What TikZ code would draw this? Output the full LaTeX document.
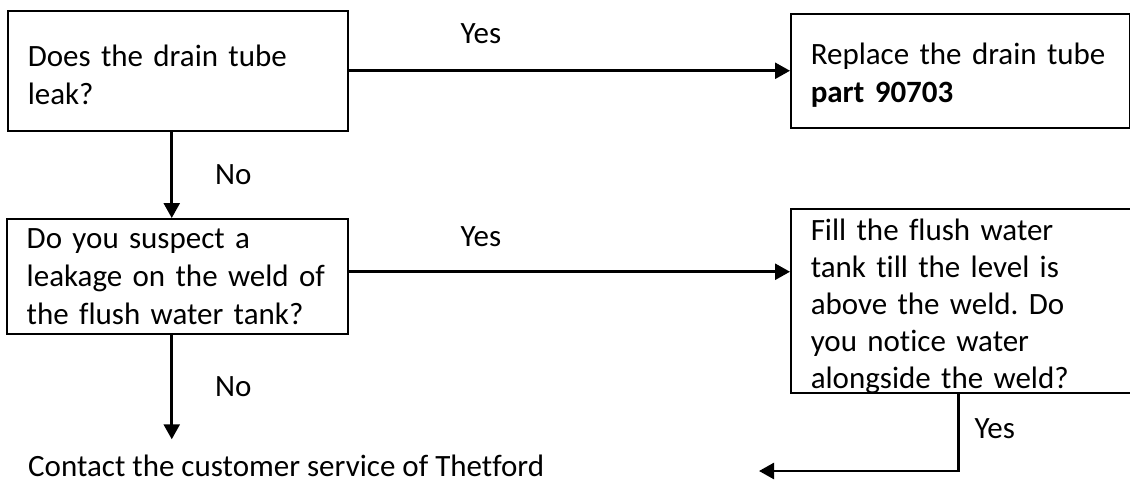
\documentclass[tikz,border=0pt]{standalone}
\usepackage{fontspec}
\setmainfont{Carlito}[Ligatures=NoCommon]
\usetikzlibrary{arrows.meta}
\frenchspacing

\begin{document}
\begin{tikzpicture}[x=1pt, y=-1pt,
  box/.style={draw, line width=1.5pt, anchor=north west, align=left, inner xsep=20pt, inner ysep=0pt, font=\fontsize{31}{38}\selectfont},
  arr/.style={line width=2.6pt, -{Triangle[width=16pt,length=15pt]}},
  lbl/.style={inner sep=0pt, font=\fontsize{31}{38}\selectfont}]

\useasboundingbox (0,0) rectangle (1130,482);

% Draw the question boxes
\node [box, minimum width=340pt, minimum height=120pt, text width=300pt] (q1) at (7,10) {\rule{0pt}{30pt}Does the drain tube\\leak?};
\node [box, minimum width=341pt, minimum height=115pt, text width=301pt] (q2) at (6,218) {Do you suspect a\\leakage on the weld of\\the flush water tank?};

% Draw the action boxes
\node [box, minimum width=339pt, minimum height=114pt, text width=299pt] (r1) at (790,13) {\rule{0pt}{30pt}Replace the drain tube\\\textbf{part 90703}};
\node [box, minimum width=345pt, minimum height=184pt, text width=305pt, font=\fontsize{31}{37}\selectfont] (f1) at (790,208) {\rule{0pt}{28pt}Fill the flush water\\tank till the level is\\above the weld. Do\\you notice water\\\smash{alongside the weld?}};

\node [lbl, anchor=base west] (done) at (28,476) {Contact the customer service of Thetford};
\coordinate (back) at (759,471);

% Draw the connectors
\draw [arr] (q1.east) -- (r1.west) node [lbl, pos=0.3, above=26pt] {Yes};
\draw [arr] ([yshift=4.5pt]q2.east) -- ([yshift=4.5pt]q2.east -| f1.west) node [lbl, pos=0.3, above=24pt] {Yes};
\draw [arr] ([xshift=-6pt]q1.south) -- ([xshift=-6pt]q1.south |- q2.north) node [lbl, midway, right=42pt] {No};
\draw [arr] ([xshift=-5.5pt]q2.south) -- ([xshift=-5.5pt, yshift=15pt]q2.south |- done.north) node [lbl, midway, right=42pt] {No};
\draw [arr] ([xshift=-5pt]f1.south) |- (back) node [lbl, pos=0.23, right=15pt] {Yes};

\end{tikzpicture}
\end{document}
